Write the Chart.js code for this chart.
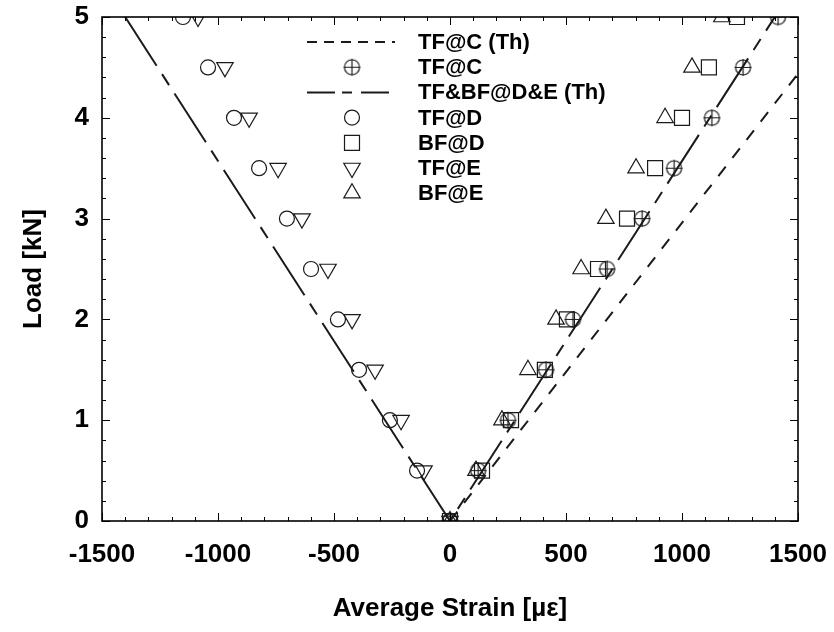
<!DOCTYPE html>
<html>
<head>
<meta charset="utf-8">
<title>Load vs Average Strain</title>
<script src="https://cdn.jsdelivr.net/npm/chart.js@4/dist/chart.umd.min.js"></script>
<style>
  body { margin: 0; background: #fff; }
  #wrap { width: 834px; height: 632px; }
</style>
</head>
<body>
<div id="wrap"><canvas id="strainChart" width="834" height="632"></canvas></div>
<script>
// loads in kN, strains in micro-strain
const loads = [0, 0.5, 1, 1.5, 2, 2.5, 3, 3.5, 4, 4.5, 5];
const tfC = [0, 121, 250, 414, 530, 677, 828, 966, 1129, 1263, 1414];
const tfD = [0, -142, -259, -392, -483, -599, -703, -823, -931, -1043, -1151];
const bfD = [0, 138, 263, 409, 504, 638, 763, 884, 1000, 1116, 1237];
const tfE = [0, -112, -211, -323, -422, -526, -638, -741, -866, -970, -1086];
const bfE = [0, 112, 224, 336, 457, 565, 672, 802, 927, 1043, 1172];

// theory lines
const thCStrain = [0, 1690];
const thCLoad = [0, 5];
const thDEStrain = [-1400, 0, 1400];
const thDELoad = [5, 0, 5];

const xTicks = [-1500, -1000, -500, 0, 500, 1000, 1500];
const yTicks = [0, 1, 2, 3, 4, 5];

const FONT = '"Liberation Sans", Arial, sans-serif';
const INK = '#1a1a1a';

function pts(xs, ys) {
  return xs.map((x, i) => ({ x: x, y: ys[i] }));
}

// circle with a cross (⊕) marker
function makeOPlus(r) {
  const c = document.createElement('canvas');
  const s = Math.ceil(r * 2 + 4);
  c.width = s; c.height = s;
  const g = c.getContext('2d');
  g.strokeStyle = INK;
  g.lineWidth = 1.2;
  g.beginPath();
  g.arc(s / 2, s / 2, r, 0, Math.PI * 2);
  g.moveTo(s / 2 - r - 1, s / 2); g.lineTo(s / 2 + r + 1, s / 2);
  g.moveTo(s / 2, s / 2 - r - 1); g.lineTo(s / 2, s / 2 + r + 1);
  g.stroke();
  return c;
}
const oplus = makeOPlus(7.5);

const markerBase = {
  showLine: false,
  borderColor: INK,
  backgroundColor: 'rgba(0,0,0,0)',
  pointBorderWidth: 1.2,
  pointBorderColor: INK,
  pointBackgroundColor: 'rgba(0,0,0,0)'
};

const datasets = [
  {
    label: 'TF@C (Th)', data: pts(thCStrain, thCLoad), showLine: true,
    borderColor: INK, borderWidth: 2, borderDash: [12, 11], pointRadius: 0,
    legendDash: [10, 7]
  },
  Object.assign({}, markerBase, { label: 'TF@C', data: pts(tfC, loads), pointStyle: oplus, pointRadius: 8 }),
  {
    label: 'TF&BF@D&E (Th)', data: pts(thDEStrain, thDELoad), showLine: true,
    borderColor: INK, borderWidth: 2, borderDash: [58, 10, 13, 10], pointRadius: 0,
    legendDash: [28, 7, 10, 9]
  },
  Object.assign({}, markerBase, { label: 'TF@D', data: pts(tfD, loads), pointStyle: 'circle', pointRadius: 7.5 }),
  Object.assign({}, markerBase, { label: 'BF@D', data: pts(bfD, loads), pointStyle: 'rect', pointRadius: 10.6 }),
  Object.assign({}, markerBase, { label: 'TF@E', data: pts(tfE, loads), pointStyle: 'triangle', pointRotation: 180, pointRadius: 9.5 }),
  Object.assign({}, markerBase, { label: 'BF@E', data: pts(bfE, loads), pointStyle: 'triangle', pointRadius: 9.5 })
];

function drawMarker(ctx, ds, x, y) {
  const r = ds.pointRadius;
  ctx.save();
  ctx.strokeStyle = INK;
  ctx.lineWidth = 1.2;
  ctx.setLineDash([]);
  ctx.beginPath();
  if (ds.pointStyle === oplus) {
    ctx.drawImage(oplus, x - oplus.width / 2, y - oplus.height / 2);
    ctx.restore();
    return;
  } else if (ds.pointStyle === 'circle') {
    ctx.arc(x, y, r, 0, Math.PI * 2);
  } else if (ds.pointStyle === 'rect') {
    const h = r * Math.SQRT1_2;
    ctx.rect(x - h, y - h, 2 * h, 2 * h);
  } else if (ds.pointStyle === 'triangle') {
    let a = (ds.pointRotation || 0) * Math.PI / 180;
    ctx.moveTo(x + Math.sin(a) * r, y - Math.cos(a) * r);
    for (let k = 0; k < 2; k++) {
      a += 2 * Math.PI / 3;
      ctx.lineTo(x + Math.sin(a) * r, y - Math.cos(a) * r);
    }
    ctx.closePath();
  }
  ctx.stroke();
  ctx.restore();
}

// frame, inward ticks on all four sides, and the legend inside the plot
const framePlugin = {
  id: 'frame',
  afterDraw(chart) {
    const ctx = chart.ctx;
    const a = chart.chartArea;
    const xs = chart.scales.x;
    const ys = chart.scales.y;
    ctx.save();
    ctx.strokeStyle = '#000';
    ctx.lineWidth = 1;
    ctx.setLineDash([]);
    ctx.beginPath();
    for (let v = -1500; v <= 1500; v += 100) {
      const px = Math.round(xs.getPixelForValue(v)) + 0.5;
      const len = v % 500 === 0 ? 8 : 4;
      ctx.moveTo(px, a.bottom); ctx.lineTo(px, a.bottom - len);
      ctx.moveTo(px, a.top); ctx.lineTo(px, a.top + len);
    }
    for (let i = 0; i <= 25; i++) {
      const v = i * 0.2;
      const py = Math.round(ys.getPixelForValue(v)) + 0.5;
      const len = i % 5 === 0 ? 8 : 4;
      ctx.moveTo(a.left, py); ctx.lineTo(a.left + len, py);
      ctx.moveTo(a.right, py); ctx.lineTo(a.right - len, py);
    }
    ctx.stroke();
    ctx.lineWidth = 1.6;
    ctx.strokeRect(a.left, a.top, a.right - a.left, a.bottom - a.top);

    // legend
    const lineX0 = 307, lineX1 = 395, markX = 352, textX = 418;
    ctx.font = 'bold 22px ' + FONT;
    ctx.fillStyle = '#000';
    ctx.textBaseline = 'middle';
    ctx.textAlign = 'left';
    chart.data.datasets.forEach((ds, i) => {
      const y = 42 + i * 25.2;
      if (ds.showLine) {
        ctx.strokeStyle = INK;
        ctx.lineWidth = 2;
        ctx.setLineDash(ds.legendDash);
        ctx.beginPath();
        ctx.moveTo(lineX0, y); ctx.lineTo(lineX1, y);
        ctx.stroke();
        ctx.setLineDash([]);
      } else {
        drawMarker(ctx, ds, markX, y);
      }
      ctx.fillText(ds.label, textX, y + 1);
    });
    ctx.restore();
  }
};

Chart.defaults.font.family = FONT;
Chart.defaults.color = '#000';

new Chart(document.getElementById('strainChart'), {
  type: 'scatter',
  data: { datasets: datasets },
  options: {
    responsive: false,
    animation: false,
    layout: { padding: { left: 0, top: 17, right: 36, bottom: 0 } },
    plugins: { legend: { display: false }, tooltip: { enabled: false } },
    scales: {
      x: {
        type: 'linear', min: -1500, max: 1500,
        grid: { display: false, drawTicks: false },
        border: { display: false },
        afterBuildTicks: (s) => { s.ticks = xTicks.map(v => ({ value: v })); },
        afterFit: (s) => { s.height = 111; s.paddingLeft = 0; s.paddingRight = 0; },
        ticks: { font: { size: 26, weight: 'bold' }, padding: 18, maxRotation: 0, autoSkip: false, callback: (v) => String(v) },
        title: { display: true, text: 'Average Strain [µε]', font: { size: 26, weight: 'bold' }, padding: { top: 0, bottom: 8 } }
      },
      y: {
        type: 'linear', min: 0, max: 5,
        grid: { display: false, drawTicks: false },
        border: { display: false },
        afterBuildTicks: (s) => { s.ticks = yTicks.map(v => ({ value: v })); },
        afterFit: (s) => { s.width = 102; s.paddingTop = 0; s.paddingBottom = 0; },
        ticks: { font: { size: 26, weight: 'bold' }, padding: 13, callback: (v) => String(v) },
        title: { display: true, text: 'Load [kN]', font: { size: 26, weight: 'bold' }, padding: { top: 18, bottom: 0 } }
      }
    }
  },
  plugins: [framePlugin]
});
</script>
</body>
</html>
